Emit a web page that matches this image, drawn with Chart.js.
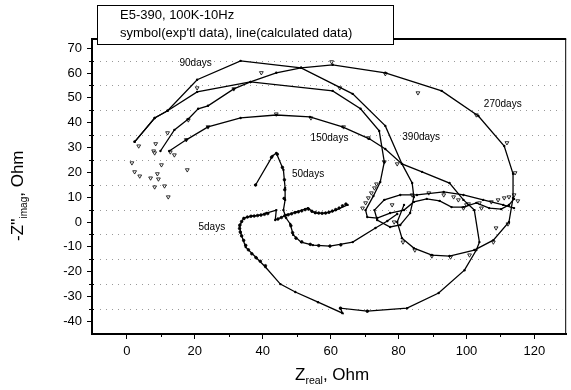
<!DOCTYPE html>
<html>
<head>
<meta charset="utf-8">
<script src="https://cdn.jsdelivr.net/npm/chart.js@4/dist/chart.umd.min.js"></script>
<style>
  html, body { margin: 0; padding: 0; background: #fff; }
  canvas { display: block; }
</style>
</head>
<body>
<canvas id="nyquist" width="571" height="390"></canvas>
<script>
// Nyquist plot E5-390, 100K-10Hz: Z_real vs -Z_imag (Ohm)
const xTicks = [0, 20, 40, 60, 80, 100, 120];
const xMinor = [10, 30, 50, 70, 90, 110];
const yTicks = [-40, -30, -20, -10, 0, 10, 20, 30, 40, 50, 60, 70];
const yMinor = [-35, -25, -15, -5, 5, 15, 25, 35, 45, 55, 65];

// calculated data (lines)
const calc90 = [[2.3,32.3],[8.2,41.9],[12.0,44.8],[20.7,57.3],[33.5,64.9],[51.3,62.1],[66.5,51.6],[76.1,38.7],[81.0,23.4],[84.0,15.7],[84.5,10.1],[83.4,3.6],[80.5,-1.2],[77.5,-2.0],[73.7,0.8],[72.9,4.8],[75.8,8.9],[80.5,10.9],[85.4,10.9],[93.3,12.1],[99.1,10.9],[104.9,8.9],[110.8,6.9],[114.0,5.6]];
const calc270 = [[2.3,32.3],[8.2,41.9],[12.0,44.8],[20.7,52.4],[36.4,56.4],[44.0,60.1],[51.3,62.1],[60.6,63.3],[76.1,60.1],[92.7,52.8],[103.5,42.7],[111.1,30.6],[113.7,19.4],[113.7,9.7],[112.5,0],[107.9,-7.3],[102.3,-11.3],[95.0,-13.7],[89.8,-13.3],[84.5,-10.5],[81.0,-6.5],[79.6,0],[81.6,6.9]];
const calc150 = [[12.5,28.6],[17.5,33.1],[23.9,38.3],[33.5,41.9],[44.0,43.1],[53.9,42.3],[63.5,38.3],[71.4,33.5],[76.1,29.4],[81.0,23.4],[86.9,20.2],[95.0,15.7],[99.1,8.9],[102.3,4.8]];
const calc390 = [[9.9,28.6],[14.0,37.1],[18.1,41.5],[21.0,45.6],[23.9,46.8],[31.5,53.6],[36.4,56.4],[60.6,52.8],[68.8,45.6],[74.3,36.7],[75.8,24.2],[74.6,16.1],[72.6,10.5],[70.3,4.8],[70.8,2.0],[73.7,1.6],[77.5,3.6],[81.6,4.8],[84.5,8.1],[88.3,9.3],[92.1,8.5],[95.6,6.0],[99.1,6.0],[102.9,7.7],[106.7,5.6],[110.2,5.2],[112.5,6.9],[114.0,9.3]];
const calc50 = [[37.9,14.9],[42.9,26.6],[44.0,27.8],[46.1,21.0],[46.6,13.7],[46.6,8.9],[46.1,4.8],[46.9,1.6],[48.1,-0.8],[49.0,-5.2],[51.3,-8.1],[54.8,-9.3],[59.8,-9.7],[66.5,-8.1],[73.2,-2.4],[76.7,0.4],[79.6,3.2]];
const calc5 = [[65.0,6.9],[61.5,4.8],[58.6,3.6],[55.4,3.6],[53.3,5.6],[49.8,4.0],[46.9,2.8],[43.7,0.8],[44.0,4.8],[41.1,3.6],[39.4,2.8],[36.7,2.4],[34.4,1.6],[33.2,-1.6],[33.5,-4.4],[35.0,-10.1],[38.2,-14.5],[40.8,-18.1],[45.2,-25.0],[49.6,-28.2],[56.3,-32.3],[63.5,-36.7],[62.9,-34.7],[70.8,-35.9],[82.5,-34.7],[91.8,-28.6],[99.4,-19.4],[102.9,-11.3],[103.8,-8.1],[102.3,4.8]];

// experimental data (symbols)
const exp90 = [[3.5,30.6],[8.5,31.5],[7.9,28.6],[8.2,27.8],[12.0,35.9],[20.7,54.0],[39.6,60.1],[62.7,54.0],[78.7,0.0],[78.1,6.9],[84.0,10.9],[88.9,11.7]];
const exp270 = [[1.5,23.8],[2.3,20.2],[3.8,18.5],[7.0,17.7],[9.0,19.4],[60.3,64.5],[76.1,59.7],[85.7,52.0],[102.9,43.1],[111.9,31.9],[114.3,19.8],[112.2,-0.8],[108.7,-2.4],[107.9,-8.1],[100.9,-13.3],[95.3,-14.1],[89.8,-13.7],[84.8,-11.3],[81.3,-8.1]];
const exp150 = [[12.8,28.2],[14.0,27.0],[17.5,33.1],[23.9,38.3],[44.0,43.5],[54.2,41.9],[63.8,38.3],[71.1,33.9],[75.8,24.2],[79.6,23.4],[99.1,5.6],[100.6,7.3],[104.4,5.6]];
const exp390 = [[8.2,14.1],[9.3,17.3],[11.1,14.5],[12.2,10.1],[10.2,23.0],[17.8,21.0],[18.1,41.1],[31.5,53.6],[69.4,5.6],[70.3,7.7],[71.1,9.7],[72.0,11.7],[72.9,13.7],[73.5,15.3],[93.3,10.9],[96.2,10.1],[97.6,8.9],[100.0,6.9],[103.8,7.7],[107.3,8.1],[109.3,8.9],[111.1,9.7],[112.5,10.1],[114.0,10.9],[115.1,8.5]];
const exp50 = [[37.9,14.9],[42.6,26.1],[44.3,27.3],[45.8,22.0],[46.4,17.0],[46.5,13.0],[46.3,9.5],[48.3,-1.5],[48.8,-4.3],[49.8,-6.5],[51.5,-8.0],[54.0,-9.0],[56.5,-9.5],[59.8,-9.7],[63.0,-9.2]];
const exp5 = [[64.5,7.2],[63.5,6.5],[62.5,5.6],[61.5,5.0],[60.5,4.4],[59.5,3.9],[58.5,3.6],[57.5,3.5],[56.5,3.6],[55.5,3.8],[54.5,4.3],[53.5,5.2],[52.5,5.0],[51.5,4.5],[50.5,4.1],[49.5,3.8],[48.5,3.3],[47.5,2.9],[46.5,2.5],[45.5,1.8],[44.5,1.2],[41.5,3.4],[40.5,3.1],[39.5,2.8],[38.5,2.6],[37.5,2.4],[36.5,2.3],[35.5,2.0],[34.5,1.4],[33.8,0.2],[33.3,-1.2],[33.2,-2.6],[33.4,-4.0],[33.8,-5.6],[34.4,-7.4],[35.0,-9.4],[35.8,-11.2],[36.8,-12.8],[38.0,-14.3],[39.3,-15.8],[40.8,-17.6],[62.9,-34.7],[70.8,-35.9]];

// curve labels
const dayLabels = ['90days', '270days', '150days', '390days', '50days', '5days'];
const labelX = [15.5, 105.1, 54.1, 81.1, 48.6, 21.1];
const labelY = [64.1, 47.5, 33.8, 34.2, 19.3, -2.0];

const FONT = "'Liberation Sans', Arial, sans-serif";
const toXY = arr => arr.map(p => ({ x: p[0], y: p[1] }));

function calcSet(name, arr) {
    return {
        label: name, data: toXY(arr), showLine: true, tension: 0,
        borderColor: '#000', borderWidth: 1.3,
        pointRadius: 1.2, pointBackgroundColor: '#000', pointBorderWidth: 0
    };
}
function expSet(name, arr, small) {
    return {
        label: name, data: toXY(arr), showLine: false,
        pointStyle: small ? 'circle' : 'triangle', rotation: 180,
        pointRadius: small ? 1.3 : 2.2, pointBorderWidth: 0.8,
        pointBorderColor: '#000', pointBackgroundColor: small ? '#000' : '#fff'
    };
}

const decor = {
    id: 'decor',
    beforeDatasetsDraw(chart) {
        const { ctx, chartArea: a, scales: { y } } = chart;
        ctx.save();
        ctx.strokeStyle = '#999';
        ctx.lineWidth = 1;
        ctx.setLineDash([1, 5]);
        yMinor.forEach(v => {
            const py = Math.round(y.getPixelForValue(v)) + 0.5;
            ctx.beginPath(); ctx.moveTo(a.left + 8, py); ctx.lineTo(a.right - 4, py); ctx.stroke();
        });
        ctx.restore();
    },
    afterDraw(chart) {
        const { ctx, chartArea: a, scales: { x, y } } = chart;
        ctx.save();
        // minor ticks
        ctx.strokeStyle = '#000';
        ctx.lineWidth = 1;
        xMinor.forEach(v => {
            const px = Math.round(x.getPixelForValue(v)) + 0.5;
            ctx.beginPath(); ctx.moveTo(px, a.bottom); ctx.lineTo(px, a.bottom + 3); ctx.stroke();
        });
        yMinor.forEach(v => {
            const py = Math.round(y.getPixelForValue(v)) + 0.5;
            ctx.beginPath(); ctx.moveTo(a.left - 3, py); ctx.lineTo(a.left + 2, py); ctx.stroke();
        });
        // frame top/right
        ctx.lineWidth = 2;
        ctx.beginPath(); ctx.moveTo(a.left, a.top); ctx.lineTo(a.right, a.top); ctx.stroke();
        ctx.lineWidth = 1;
        ctx.beginPath(); ctx.moveTo(a.right - 0.5, a.top); ctx.lineTo(a.right - 0.5, a.bottom); ctx.stroke();

        // legend box
        ctx.fillStyle = '#fff';
        ctx.fillRect(97, 5, 296, 39);
        ctx.strokeRect(97.5, 5.5, 296, 39);
        ctx.fillStyle = '#000';
        ctx.font = '13px ' + FONT;
        ctx.textBaseline = 'middle';
        ctx.textAlign = 'left';
        ctx.fillText('E5-390, 100K-10Hz', 120, 15);
        ctx.fillText("symbol(exp'tl data), line(calculated data)", 120, 33);

        // curve labels
        ctx.font = '10px ' + FONT;
        dayLabels.forEach((t, i) => {
            ctx.fillText(t, x.getPixelForValue(labelX[i]), y.getPixelForValue(labelY[i]));
        });

        // x title with subscript
        ctx.textBaseline = 'alphabetic';
        let cx = 295;
        ctx.font = '17px ' + FONT;
        ctx.fillText('Z', cx, 380); cx += ctx.measureText('Z').width;
        ctx.font = '10.5px ' + FONT;
        ctx.fillText('real', cx, 384); cx += ctx.measureText('real').width;
        ctx.font = '17px ' + FONT;
        ctx.fillText(', Ohm', cx, 380);

        // y title, rotated
        ctx.translate(23, 241);
        ctx.rotate(-Math.PI / 2);
        let cy = 0;
        ctx.font = '17px ' + FONT;
        ctx.fillText("-Z''", cy, 0); cy += ctx.measureText("-Z''").width;
        ctx.font = '10px ' + FONT;
        ctx.fillText('imag', cy, 4); cy += ctx.measureText('imag').width;
        ctx.font = '17px ' + FONT;
        ctx.fillText(', Ohm', cy, 0);
        ctx.restore();
    }
};

new Chart(document.getElementById('nyquist'), {
    type: 'scatter',
    data: {
        datasets: [
            calcSet('90days', calc90), calcSet('270days', calc270), calcSet('150days', calc150),
            calcSet('390days', calc390), calcSet('50days', calc50), calcSet('5days', calc5),
            expSet('90days exp', exp90), expSet('270days exp', exp270), expSet('150days exp', exp150),
            expSet('390days exp', exp390), expSet('50days exp', exp50, true), expSet('5days exp', exp5, true)
        ]
    },
    options: {
        responsive: false,
        devicePixelRatio: 1,
        animation: false,
        layout: { padding: { top: 39, right: 2, left: 0, bottom: 0 } },
        plugins: { legend: { display: false }, tooltip: { enabled: false } },
        scales: {
            x: {
                type: 'linear', min: -10.25, max: 129.35,
                afterBuildTicks: s => { s.ticks = xTicks.map(v => ({ value: v })); },
                afterFit: s => { s.height = 56; },
                ticks: { color: '#000', font: { size: 13, family: FONT }, padding: 5, maxRotation: 0 },
                grid: { drawOnChartArea: false, tickLength: 5, color: '#000', lineWidth: 1 },
                border: { color: '#000', width: 2 }
            },
            y: {
                type: 'linear', min: -45.1, max: 73.7,
                afterBuildTicks: s => { s.ticks = yTicks.map(v => ({ value: v })); },
                afterFit: s => { s.width = 92; },
                ticks: { color: '#000', font: { size: 13, family: FONT }, padding: 5 },
                grid: { drawOnChartArea: false, tickLength: 5, color: '#000', lineWidth: 1 },
                border: { color: '#000', width: 2 }
            }
        }
    },
    plugins: [decor]
});
</script>
</body>
</html>
